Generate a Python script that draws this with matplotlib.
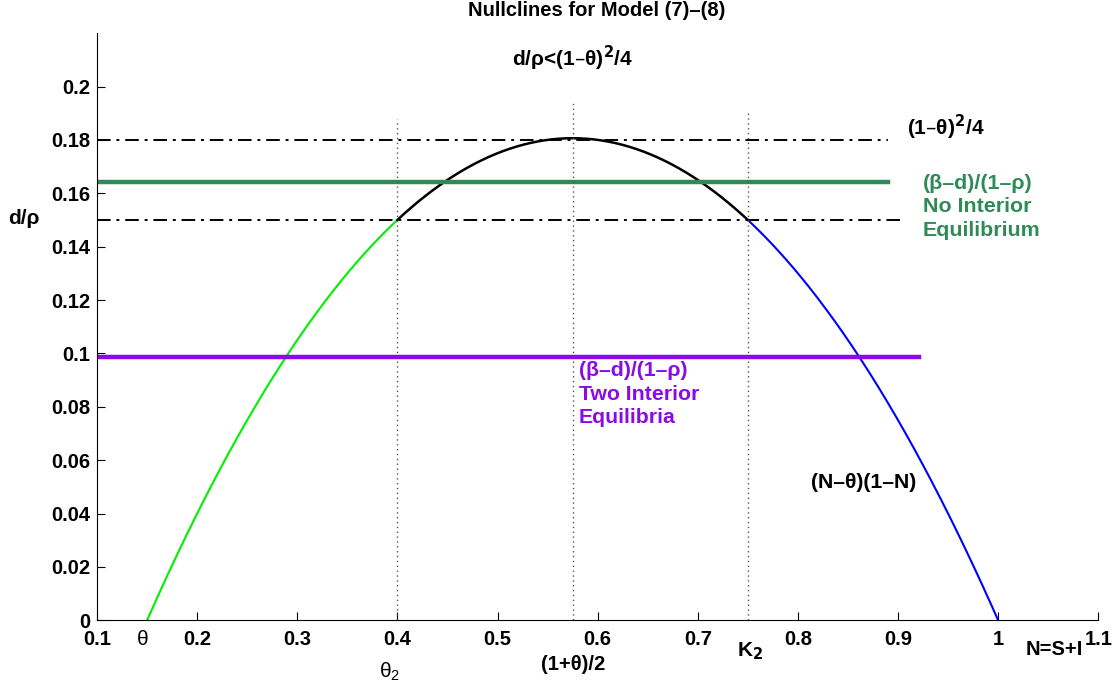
import numpy as np
import matplotlib.pyplot as plt

plt.rcParams['font.family'] = ['Liberation Sans', 'DejaVu Sans']
plt.rcParams['font.weight'] = 'bold'

# model parameters
theta = 0.15
theta2 = 0.4
K2 = 0.75
peak = (1 + theta) / 2

# horizontal reference levels (d/rho)
level_top = 0.18
level_low = 0.15
level_none = 0.1643
level_two = 0.0986

# extents of the horizontal lines along N
top_end = 0.89
low_end = 0.905
none_end = 0.89
two_end = 0.921

# heights of the vertical dotted guides
vguide_x = [theta2, peak, K2]
vguide_h = [0.188, 0.194, 0.190]

xticks = [0.1, 0.2, 0.3, 0.4, 0.5, 0.6, 0.7, 0.8, 0.9, 1.0, 1.1]
xticklabels = ['0.1', '0.2', '0.3', '0.4', '0.5', '0.6', '0.7', '0.8', '0.9', '1', '1.1']
yticks = [0, 0.02, 0.04, 0.06, 0.08, 0.1, 0.12, 0.14, 0.16, 0.18, 0.2]
yticklabels = ['0', '0.02', '0.04', '0.06', '0.08', '0.1', '0.12', '0.14', '0.16', '0.18', '0.2']


def nullcline(N):
    return (N - theta) * (1 - N)


fig = plt.figure(figsize=(11.15, 6.9), dpi=100)
ax = fig.add_axes([0.087, 0.101, 0.898, 0.851])

# three pieces of the parabola
n1 = np.linspace(theta, theta2, 200)
n2 = np.linspace(theta2, K2, 300)
n3 = np.linspace(K2, 1.0, 200)
ax.plot(n1, nullcline(n1), color='#00f000', lw=1.5)
ax.plot(n2, nullcline(n2), color='black', lw=1.8)
ax.plot(n3, nullcline(n3), color='#0000ff', lw=1.5)

# dash-dot levels
ax.plot([0.1, top_end], [level_top, level_top], color='black', lw=1.4,
        dashes=(7, 3, 1.5, 3))
ax.plot([0.1, low_end], [level_low, level_low], color='black', lw=1.4,
        dashes=(7, 3, 1.5, 3))

# (beta-d)/(1-rho) lines
ax.plot([0.1, none_end], [level_none, level_none], color='#2e8b57', lw=3.2)
ax.plot([0.1, two_end], [level_two, level_two], color='#8a0ae8', lw=3.2)

# dotted guides
for xv, h in zip(vguide_x, vguide_h):
    ax.plot([xv, xv], [0, h], color='#555555', lw=1.0, ls=(0, (1, 2.5)))

ax.set_xlim(0.1, 1.1)
ax.set_ylim(0, 0.22)
ax.set_xticks(xticks)
ax.set_xticklabels(xticklabels)
ax.set_yticks(yticks)
ax.set_yticklabels(yticklabels)
ax.tick_params(direction='in', length=6, labelsize=14.5, width=0.8)
ax.tick_params(axis='x', pad=7)
ax.tick_params(axis='y', pad=5)
for lab in ax.get_xticklabels() + ax.get_yticklabels():
    lab.set_fontweight('bold')
ax.spines['top'].set_visible(False)
ax.spines['right'].set_visible(False)

fig.text(0.5355, 1 - 10 / 690, 'Nullclines for Model (7)\u2013(8)', fontsize=14.5,
         fontweight='bold', ha='center', va='center')
fig.text(0.007, 1 - 218 / 690, 'd/\u03c1', fontsize=15, fontweight='bold',
         ha='left', va='center')

ax.text(0.5146, 0.2107, 'd/\u03c1<(1\u2013\u03b8)$^{\\mathbf{2}}$/4', fontsize=15,
        fontweight='bold', ha='left', va='center')
ax.text(0.909, 0.1845, '(1\u2013\u03b8)$^{\\mathbf{2}}$/4', fontsize=15,
        fontweight='bold', ha='left', va='center')
ax.text(0.925, 0.1549, '(\u03b2\u2013d)/(1\u2013\u03c1)\nNo Interior\nEquilibrium', fontsize=15.4,
        fontweight='bold', color='#2e8b57', ha='left', va='center', linespacing=1.3)
ax.text(0.5815, 0.0847, '(\u03b2\u2013d)/(1\u2013\u03c1)\nTwo Interior\nEquilibria', fontsize=15.3,
        fontweight='bold', color='#8a0ae8', ha='left', va='center', linespacing=1.3)
ax.text(0.8133, 0.0517, '(N\u2013\u03b8)(1\u2013N)', fontsize=15.3, fontweight='bold',
        ha='left', va='center')

# labels under the N axis
ax.text(0.146, -0.0037, '\u03b8', fontsize=15, ha='center', va='top', fontweight='normal')
ax.text(0.392, -0.015, '\u03b8$_{\\mathregular{2}}$', fontsize=15, ha='center', va='top',
        fontweight='normal')
ax.text(0.5755, -0.0131, '(1+\u03b8)/2', fontsize=14.5, ha='center', va='top', fontweight='bold')
ax.text(0.752, -0.0075, 'K$_{\\mathbf{2}}$', fontsize=15, ha='center', va='top', fontweight='bold')
ax.text(1.056, -0.0075, 'N=S+I', fontsize=14.5, ha='center', va='top', fontweight='bold')

fig.savefig('out.png', dpi=100)
